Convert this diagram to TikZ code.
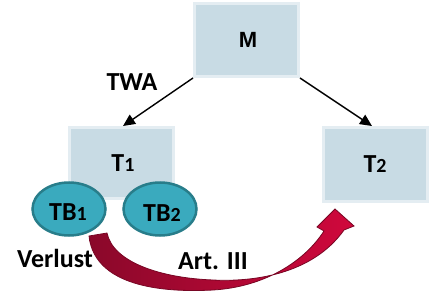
\documentclass[tikz,border=0pt]{standalone}
\usepackage{fontspec}
\setmainfont{Carlito}
\newfontfamily\arialfont{Liberation Sans}
\usetikzlibrary{arrows.meta,shapes.geometric}
\definecolor{boxfill}{RGB}{200,219,228}
\definecolor{boxline}{RGB}{228,237,242}
\definecolor{tbfill}{RGB}{58,170,190}
\definecolor{tbline}{RGB}{40,125,138}
\definecolor{reddark}{RGB}{138,8,42}
\definecolor{redbright}{RGB}{208,8,60}
\definecolor{redline}{RGB}{120,6,36}
\newcommand\smalldigit[1]{{\fontsize{20}{20}\selectfont #1}}
\begin{document}
\begin{tikzpicture}[x=1pt,y=-1pt,
  box/.style={draw=boxline, line width=3pt, fill=boxfill, minimum width=104pt, inner sep=0pt},
  tb/.style={ellipse, draw=tbline, line width=2.5pt, fill=tbfill, minimum width=73pt, minimum height=53pt, inner sep=0pt},
  lbl/.style={font=\fontsize{26}{26}\selectfont\bfseries, inner sep=0pt},
  conn/.style={line width=1.4pt, -{Triangle[length=12pt,width=11pt]}}]
\useasboundingbox (0,0) rectangle (430,291);
\node[box, minimum height=73pt] (M) at (246.5,40) {};
\node[font=\arialfont\fontsize{22}{22}\selectfont\bfseries, inner sep=0pt] (Mt) at (248,40) {M};
\node[box, minimum height=71pt] (T1) at (121.5,163) {};
\node[lbl] (T1t) at (123,163) {T\smalldigit{1}};
\node[box, minimum height=74pt] (T2) at (375.5,164.5) {};
\node[lbl] (T2t) at (375,164) {T\smalldigit{2}};
\draw[conn] (M.south west) -- ([xshift=1.5pt]T1.north);
\draw[conn] (M.south east) -- ([xshift=-3.5pt]T2.north);
\node[lbl] (twa) at (132,82) {TWA};
% curved red arrow from TB1 to T2
\shade[left color=reddark, right color=redbright, draw=redline, line width=0.8pt]
  (89,236) .. controls (95,291) and (175,292) .. (213,290)
  .. controls (264,287) and (304,262) .. (324,231)
  -- (317,227) -- (335,209) -- (354,226) -- (344,230)
  .. controls (312,275) and (252,282) .. (213,280)
  .. controls (160,278) and (113,262) .. (107,233) -- cycle;
\node[tb] (TB1) at (69,209) {};
\node[lbl] (TB1t) at (68,212) {TB\smalldigit{1}};
\node[tb] (TB2) at (160,209) {};
\node[lbl] (TB2t) at (162,213) {TB\smalldigit{2}};
\node[lbl] (verlust) at (55,258) {Verlust};
\node[lbl] (art) at (213,261) {Art. III};
\end{tikzpicture}
\end{document}
